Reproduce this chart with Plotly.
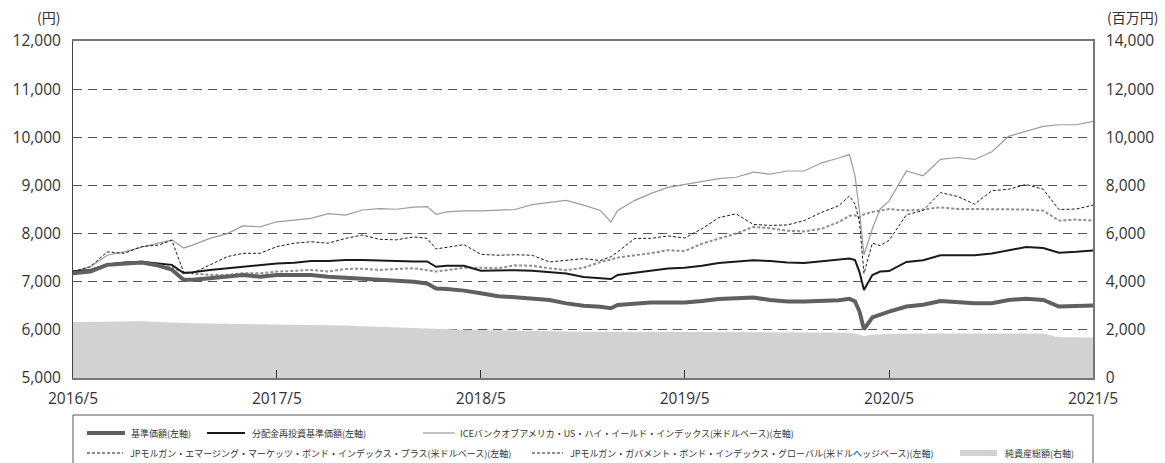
import plotly.graph_objects as go

# ---------------- data ----------------
dates = [
    "2016-05-01", "2016-06-01", "2016-07-01", "2016-08-01", "2016-09-01", "2016-10-01", "2016-10-25", "2016-11-15", "2016-12-01",
    "2017-01-01", "2017-02-01", "2017-03-01", "2017-04-01", "2017-05-01", "2017-06-01", "2017-07-01", "2017-08-01", "2017-09-01", "2017-10-01", "2017-11-01", "2017-12-01",
    "2018-01-01", "2018-01-25", "2018-02-10", "2018-03-01", "2018-04-01", "2018-05-01", "2018-06-01", "2018-07-01", "2018-08-01", "2018-09-01", "2018-10-01", "2018-11-01", "2018-12-01", "2018-12-20",
    "2019-01-01", "2019-02-01", "2019-03-01", "2019-04-01", "2019-05-01", "2019-06-01", "2019-07-01", "2019-08-01", "2019-09-01", "2019-10-01", "2019-11-01", "2019-12-01",
    "2020-01-01", "2020-02-01", "2020-02-20", "2020-03-01", "2020-03-09", "2020-03-17", "2020-04-01", "2020-04-15", "2020-05-01", "2020-06-01", "2020-07-01", "2020-08-01", "2020-09-01", "2020-10-01", "2020-11-01", "2020-12-01",
    "2021-01-01", "2021-02-01", "2021-03-01", "2021-04-01", "2021-05-01",
]

base_price = [
    7175, 7210, 7350, 7380, 7400, 7335, 7250, 7040, 7040,
    7070, 7105, 7140, 7105, 7140, 7140, 7140, 7105, 7085, 7070, 7040, 7035,
    7000, 6965, 6860, 6850, 6815, 6760, 6700, 6675, 6655, 6620, 6550, 6500, 6480, 6450,
    6515, 6550, 6570, 6570, 6570, 6600, 6640, 6655, 6670, 6620, 6590, 6590,
    6600, 6615, 6645, 6590, 6380, 6010, 6260, 6320, 6380, 6485, 6520, 6600, 6570, 6555, 6555, 6620,
    6645, 6620, 6485, 6505, 6505,
]

reinvested = [
    7210, 7245, 7360, 7400, 7415, 7380, 7350, 7180, 7195,
    7245, 7280, 7325, 7350, 7380, 7395, 7430, 7430, 7450, 7450, 7440, 7420,
    7420, 7420, 7310, 7330, 7330, 7230, 7240, 7240, 7230, 7205, 7170, 7100, 7070, 7055,
    7140, 7190, 7240, 7275, 7290, 7330, 7390, 7415, 7445, 7430, 7400, 7390,
    7425, 7445, 7480, 7450, 7200, 6830, 7140, 7210, 7220, 7410, 7445, 7550, 7550, 7550, 7585, 7650,
    7720, 7700, 7600, 7620, 7650,
]

ice_hy = [
    7210, 7310, 7550, 7620, 7720, 7800, 7870, 7700, 7760,
    7900, 8000, 8160, 8140, 8245, 8280, 8315, 8415, 8385, 8490, 8520, 8505,
    8550, 8560, 8400, 8450, 8470, 8470, 8480, 8500, 8600, 8650, 8690, 8590, 8480, 8240,
    8480, 8690, 8830, 8960, 9020, 9070, 9140, 9170, 9275, 9235, 9300, 9300,
    9470, 9570, 9640, 9200, 8450, 7560, 8100, 8510, 8680, 9300, 9200, 9540, 9580, 9540, 9700, 10020,
    10120, 10225, 10260, 10260, 10330,
]

jpm_embi = [
    7210, 7310, 7620, 7590, 7730, 7760, 7860, 7200, 7175,
    7350, 7520, 7590, 7590, 7730, 7800, 7830, 7800, 7900, 7970, 7880, 7870,
    7930, 7900, 7680, 7720, 7770, 7570, 7550, 7560, 7550, 7410, 7450, 7480, 7440, 7520,
    7620, 7900, 7900, 7950, 7910, 8100, 8330, 8410, 8190, 8170, 8180, 8270,
    8440, 8580, 8780, 8610, 8240, 7170, 7800, 7750, 7860, 8390, 8480, 8850, 8770, 8610, 8890, 8920,
    9020, 8920, 8500, 8510, 8590,
]

jpm_gbi = [
    7210, 7245, 7350, 7380, 7400, 7350, 7300, 7190, 7175,
    7140, 7140, 7175, 7175, 7210, 7225, 7245, 7210, 7265, 7270, 7245, 7265,
    7280, 7240, 7210, 7240, 7290, 7290, 7280, 7340, 7330, 7280, 7240, 7290, 7410, 7460,
    7500, 7550, 7590, 7655, 7635, 7790, 7900, 8000, 8140, 8110, 8060, 8045,
    8100, 8240, 8370, 8380, 8330, 8400, 8450, 8480, 8510, 8480, 8500, 8545, 8510, 8510, 8510, 8510,
    8500, 8475, 8270, 8290, 8270,
]

net_assets = [
    2330, 2340, 2350, 2365, 2360, 2330, 2300, 2275, 2270,
    2260, 2250, 2245, 2240, 2230, 2225, 2215, 2200, 2180, 2150, 2120, 2090,
    2060, 2050, 2035, 2020, 2000, 1990, 1975, 1960, 1945, 1935, 1930, 1925, 1920, 1920,
    1920, 1920, 1925, 1925, 1925, 1920, 1915, 1910, 1905, 1900, 1900, 1895,
    1890, 1885, 1885, 1850, 1790, 1740, 1800, 1820, 1830, 1845, 1850, 1860, 1860, 1860, 1855, 1850,
    1850, 1845, 1690, 1680, 1680,
]

x_tickvals = ["2016-05-01", "2017-05-01", "2018-05-01", "2019-05-01", "2020-05-01", "2021-05-01"]
x_ticktext = ["2016/5", "2017/5", "2018/5", "2019/5", "2020/5", "2021/5"]

names = [
    "基準価額(左軸)",
    "分配金再投資基準価額(左軸)",
    "ICEバンクオブアメリカ・US・ハイ・イールド・インデックス(米ドルベース)(左軸)",
    "JPモルガン・エマージング・マーケッツ・ボンド・インデックス・プラス(米ドルベース)(左軸)",
    "JPモルガン・ガバメント・ボンド・インデックス・グローバル(米ドルヘッジベース)(左軸)",
    "純資産総額(右軸)",
]

# ---------------- styles ----------------
W, H = 1165, 463
ML, MR, MT, MB = 73, 72, 41, 85
PW, PH = W - ML - MR, H - MT - MB

C_BASE = "#606060"
C_REINV = "#1a1a1a"
C_ICE = "#9c9c9c"
C_EMBI = "#1a1a1a"
C_GBI = "#8e8e8e"
C_AREA = "#d1d2d4"
TXT = "#333333"
JP_FONT = "Noto Sans CJK JP"
NUM_FONT = "Open Sans"

fig = go.Figure()

fig.add_trace(go.Scatter(x=dates, y=net_assets, yaxis="y2", mode="lines",
                         line=dict(color=C_AREA, width=0), fill="tozeroy",
                         fillcolor=C_AREA, name=names[5], showlegend=False))
fig.add_trace(go.Scatter(x=dates, y=ice_hy, mode="lines",
                         line=dict(color=C_ICE, width=1.2), name=names[2], showlegend=False))
fig.add_trace(go.Scatter(x=dates, y=jpm_gbi, mode="lines",
                         line=dict(color=C_GBI, width=2, dash="3px,2px"), name=names[4], showlegend=False))
fig.add_trace(go.Scatter(x=dates, y=jpm_embi, mode="lines",
                         line=dict(color=C_EMBI, width=1, dash="3px,2px"), name=names[3], showlegend=False))
fig.add_trace(go.Scatter(x=dates, y=reinvested, mode="lines",
                         line=dict(color=C_REINV, width=2), name=names[1], showlegend=False))
fig.add_trace(go.Scatter(x=dates, y=base_price, mode="lines",
                         line=dict(color=C_BASE, width=4), name=names[0], showlegend=False))


def px_x(p):
    return (p - ML) / PW


def px_y(p):
    return (MT + PH - p) / PH


shapes = []
annotations = []

# legend frame
shapes.append(dict(type="rect", xref="paper", yref="paper",
                   x0=px_x(73), x1=px_x(1093), y0=px_y(415), y1=px_y(490),
                   line=dict(color="#555555", width=1), fillcolor="rgba(0,0,0,0)", layer="above"))

legend_items = [
    # (name idx, x_line0, x_line1, y, kind, color, width, dash, text_x)
    (0, 87, 125, 433, "line", C_BASE, 4, "solid", 129),
    (1, 207, 245, 433, "line", C_REINV, 2, "solid", 250),
    (2, 423, 455, 433, "line", C_ICE, 1.2, "solid", 458),
    (3, 87, 123, 453, "line", C_EMBI, 1, "3px,2px", 128),
    (4, 532, 563, 453, "line", C_GBI, 2, "3px,2px", 568),
    (5, 960, 997, 453, "rect", C_AREA, 0, "solid", 1003),
]
for idx, xa, xb, yy, kind, col, wd, dsh, tx in legend_items:
    if kind == "line":
        shapes.append(dict(type="line", xref="paper", yref="paper",
                           x0=px_x(xa), x1=px_x(xb), y0=px_y(yy), y1=px_y(yy),
                           line=dict(color=col, width=wd, dash=dsh)))
    else:
        shapes.append(dict(type="rect", xref="paper", yref="paper",
                           x0=px_x(xa), x1=px_x(xb), y0=px_y(yy - 3), y1=px_y(yy + 3),
                           line=dict(width=0), fillcolor=col))
    annotations.append(dict(xref="paper", yref="paper", x=px_x(tx), y=px_y(yy),
                            xanchor="left", yanchor="middle", showarrow=False,
                            text=names[idx], font=dict(family=JP_FONT, size=9, color=TXT)))

# axis unit labels
annotations.append(dict(xref="paper", yref="paper", x=px_x(48), y=px_y(17),
                        xanchor="center", yanchor="middle", showarrow=False,
                        text="(円)", font=dict(family=JP_FONT, size=14, color=TXT)))
annotations.append(dict(xref="paper", yref="paper", x=px_x(1132), y=px_y(17),
                        xanchor="center", yanchor="middle", showarrow=False,
                        text="(百万円)", font=dict(family=JP_FONT, size=14, color=TXT)))

fig.update_layout(
    width=W, height=H,
    margin=dict(l=ML, r=MR, t=MT, b=MB, pad=0),
    paper_bgcolor="white", plot_bgcolor="white",
    showlegend=False,
    shapes=shapes,
    annotations=annotations,
    xaxis=dict(
        type="date", range=["2016-05-01", "2021-05-01"],
        tickvals=x_tickvals, ticktext=x_ticktext,
        ticks="inside", ticklen=8, tickwidth=1, tickcolor="#333333",
        ticklabelstandoff=6,
        showgrid=False, zeroline=False,
        showline=True, linecolor="#777777", linewidth=1.5, mirror=True,
        tickfont=dict(family=NUM_FONT, size=15.5, color=TXT),
    ),
    yaxis=dict(
        range=[5000, 12000], dtick=1000, tick0=5000, tickformat=",",
        showgrid=True, gridcolor="#555555", gridwidth=1, griddash="9px,6px",
        zeroline=False, showline=True, linecolor="#444444", linewidth=1,
        ticks="", ticklabelstandoff=8,
        tickfont=dict(family=NUM_FONT, size=15.5, color=TXT),
    ),
    yaxis2=dict(
        range=[0, 14000], dtick=2000, tick0=0, tickformat=",",
        overlaying="y", side="right", showgrid=False, zeroline=False,
        showline=True, linecolor="#777777", linewidth=1.5,
        ticks="", ticklabelstandoff=8,
        tickfont=dict(family=NUM_FONT, size=15.5, color=TXT),
    ),
)

fig.write_html(
    "out.html",
    config={"displayModeBar": False},
    post_script="document.body.style.margin='0';document.body.style.padding='0';document.body.style.overflow='hidden';",
)
